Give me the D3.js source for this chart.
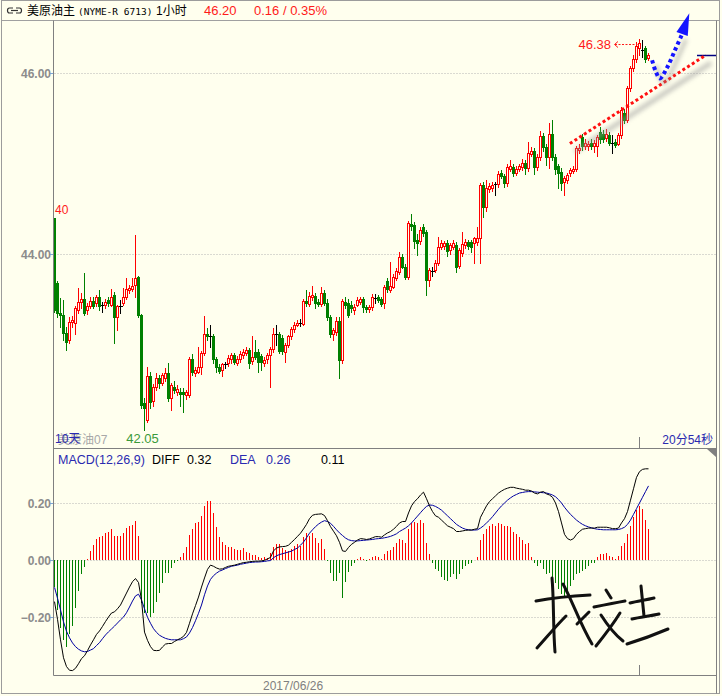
<!DOCTYPE html>
<html>
<head>
<meta charset="utf-8">
<script src="https://d3js.org/d3.v7.min.js"></script>
<style>
  html, body { margin: 0; padding: 0; background: #ffffff; }
  svg { display: block; }
</style>
</head>
<body>
<svg id="chart" width="722" height="696"></svg>
<script>
// hourly candles
const opens = [
  44.40,43.68,43.35,43.33,43.13,43.05,43.25,43.24,43.38,43.47,
  43.50,43.38,43.42,43.48,43.46,43.52,43.44,43.44,43.49,43.44,
  43.55,43.30,43.43,43.46,43.52,43.60,43.61,43.66,43.75,43.33,
  42.35,42.17,42.65,42.38,42.53,42.63,42.58,42.63,42.68,42.41,
  42.53,42.47,42.48,42.48,42.44,42.44,42.84,42.69,42.70,42.75,
  42.91,43.12,43.09,43.09,42.84,42.75,42.72,42.78,42.80,42.84,
  42.88,42.80,42.84,42.88,42.91,42.94,42.82,42.92,42.92,42.87,
  42.80,42.84,42.88,42.95,43.12,43.12,43.07,42.92,43.00,43.09,
  43.17,43.22,43.24,43.23,43.48,43.45,43.52,43.54,43.47,43.45,
  43.57,43.46,43.30,43.12,43.14,43.26,42.83,43.47,43.46,43.44,
  43.38,43.44,43.47,43.50,43.41,43.39,43.41,43.51,43.52,43.50,
  43.46,43.70,43.60,43.64,43.74,43.80,43.97,43.86,43.75,44.33,
  44.32,44.16,44.14,44.30,44.24,43.71,43.81,43.82,43.90,44.08,
  44.09,44.12,44.04,44.08,44.10,43.87,44.01,44.10,44.13,44.13,
  44.12,44.13,44.18,44.76,44.52,44.72,44.73,44.77,44.77,44.89,
  44.86,44.78,44.94,44.96,44.90,44.94,44.96,45.01,44.95,45.11,
  45.14,44.96,45.07,45.30,45.18,45.07,45.33,45.07,44.97,44.91,
  44.80,44.82,44.89,44.92,44.94,45.15,45.29,45.19,45.19,45.23,
  45.19,45.19,45.35,45.33,45.28,45.32,45.23,45.24,45.22,45.31,
  45.56,45.48,45.83,46.05,46.16,46.28,46.25,46.28,46.17
];
const highs = [
  44.40,43.70,43.51,43.49,43.19,43.30,43.31,43.42,43.62,43.57,
  43.79,43.46,43.52,43.53,43.55,43.60,43.47,43.50,43.52,43.61,
  43.58,43.44,43.49,43.62,43.73,43.66,43.74,44.21,43.76,43.34,
  42.41,42.75,42.70,42.56,42.68,42.66,42.68,42.74,42.80,42.58,
  42.60,42.55,42.52,42.52,42.50,42.86,42.90,42.75,42.97,42.93,
  43.31,43.18,43.21,43.12,42.86,42.78,42.80,42.81,42.88,42.91,
  42.91,42.87,42.93,42.95,42.97,42.96,43.09,43.05,42.95,42.89,
  42.86,42.91,42.97,43.18,43.21,43.14,43.10,43.02,43.11,43.19,
  43.25,43.27,43.28,43.50,43.60,43.58,43.65,43.57,43.50,43.64,
  43.60,43.50,43.33,43.18,43.30,43.30,43.50,43.52,43.50,43.48,
  43.45,43.52,43.53,43.52,43.44,43.44,43.56,43.56,43.55,43.53,
  43.66,43.73,43.91,43.78,43.85,44.02,44.00,43.89,44.36,44.44,
  44.35,44.22,44.30,44.33,44.26,43.84,43.86,43.93,44.19,44.16,
  44.14,44.15,44.12,44.15,44.13,44.07,44.24,44.17,44.16,44.16,
  44.19,44.30,44.78,44.80,44.82,44.78,44.80,44.80,44.92,44.93,
  44.88,44.99,45.04,44.99,44.97,45.00,45.05,45.04,45.24,45.18,
  45.17,45.10,45.36,45.34,45.22,45.45,45.48,45.10,45.00,44.95,
  44.86,44.90,44.95,44.97,45.19,45.22,45.33,45.27,45.25,45.27,
  45.26,45.32,45.40,45.37,45.38,45.35,45.31,45.27,45.34,45.62,
  45.60,45.86,46.08,46.20,46.34,46.38,46.36,46.30,46.22
];
const lows = [
  43.36,43.30,43.19,43.05,42.94,43.02,43.19,43.12,43.35,43.40,
  43.33,43.34,43.40,43.40,43.43,43.38,43.36,43.40,43.43,43.42,
  43.02,43.16,43.35,43.44,43.50,43.57,43.59,43.52,43.30,42.30,
  42.05,42.14,42.30,42.32,42.50,42.52,42.55,42.60,42.38,42.28,
  42.46,42.44,42.32,42.25,42.40,42.42,42.66,42.65,42.68,42.67,
  42.88,43.05,42.97,42.80,42.70,42.68,42.65,42.74,42.76,42.80,
  42.78,42.77,42.81,42.85,42.88,42.74,42.79,42.84,42.70,42.72,
  42.76,42.80,42.53,42.92,42.99,42.91,42.90,42.81,42.97,43.06,
  43.14,43.20,43.20,43.21,43.42,43.42,43.49,43.40,43.42,43.43,
  43.44,43.27,43.08,43.05,43.10,42.63,42.80,43.40,43.30,43.36,
  43.34,43.42,43.45,43.36,43.36,43.36,43.38,43.46,43.47,43.43,
  43.40,43.58,43.58,43.62,43.71,43.78,43.84,43.72,43.72,44.27,
  44.07,43.99,44.11,44.20,43.55,43.65,43.76,43.80,43.88,44.05,
  44.06,43.98,44.00,44.05,43.80,43.84,43.98,44.07,44.05,44.02,
  43.90,44.10,43.90,44.41,44.48,44.68,44.70,44.65,44.74,44.84,
  44.74,44.75,44.92,44.86,44.87,44.92,44.93,44.88,44.92,45.08,
  44.88,44.93,45.04,45.14,44.98,44.95,45.04,44.88,44.73,44.71,
  44.65,44.78,44.86,44.89,44.92,45.12,45.15,45.16,45.15,45.16,
  45.13,45.08,45.23,45.24,45.25,45.20,45.12,45.18,45.20,45.28,
  45.45,45.46,45.80,46.02,46.12,46.20,46.18,46.12,46.14
];
const closes = [
  43.38,43.35,43.33,43.13,43.03,43.25,43.27,43.40,43.47,43.50,
  43.35,43.43,43.48,43.43,43.52,43.42,43.44,43.47,43.46,43.52,
  43.30,43.43,43.43,43.52,43.61,43.62,43.65,43.73,43.33,42.33,
  42.30,42.65,42.36,42.53,42.63,42.57,42.66,42.68,42.41,42.55,
  42.50,42.51,42.45,42.45,42.47,42.84,42.70,42.72,42.75,42.91,
  43.12,43.09,43.09,42.84,42.75,42.71,42.78,42.78,42.85,42.88,
  42.81,42.84,42.90,42.92,42.94,42.80,42.86,42.86,42.81,42.81,
  42.83,42.88,42.95,43.12,43.12,42.93,42.93,43.00,43.09,43.17,
  43.22,43.24,43.24,43.48,43.46,43.54,43.55,43.46,43.45,43.57,
  43.46,43.30,43.12,43.16,43.26,42.83,43.48,43.44,43.33,43.40,
  43.41,43.49,43.50,43.41,43.39,43.41,43.52,43.51,43.49,43.45,
  43.64,43.61,43.65,43.75,43.81,43.97,43.86,43.75,44.34,44.31,
  44.14,44.12,44.27,44.23,43.71,43.82,43.81,43.90,44.08,44.12,
  44.12,44.03,44.10,44.12,43.86,44.04,44.11,44.13,44.09,44.08,
  44.18,44.18,44.76,44.52,44.73,44.75,44.76,44.77,44.88,44.86,
  44.78,44.96,44.97,44.90,44.94,44.97,45.01,44.95,45.12,45.14,
  44.96,45.07,45.30,45.18,45.07,45.33,45.07,44.94,44.90,44.78,
  44.84,44.87,44.93,44.94,45.17,45.17,45.19,45.23,45.22,45.19,
  45.23,45.29,45.27,45.27,45.33,45.23,45.23,45.20,45.31,45.59,
  45.48,45.83,46.05,46.16,46.30,46.33,46.25,46.16,46.20
];

// MACD(12,26,9) panel
const diffValues = [
  -0.146,-0.208,-0.28,-0.343,-0.374,-0.387,-0.388,-0.38,-0.364,-0.346,
  -0.336,-0.318,-0.298,-0.28,-0.261,-0.249,-0.233,-0.216,-0.2,-0.186,
  -0.182,-0.171,-0.158,-0.137,-0.116,-0.095,-0.076,-0.065,-0.079,-0.14,
  -0.253,-0.282,-0.304,-0.317,-0.318,-0.317,-0.305,-0.295,-0.293,-0.293,
  -0.286,-0.28,-0.275,-0.268,-0.254,-0.222,-0.189,-0.16,-0.13,-0.095,
  -0.063,-0.033,-0.018,-0.022,-0.028,-0.032,-0.031,-0.026,-0.022,-0.02,
  -0.018,-0.015,-0.012,-0.009,-0.008,-0.006,-0.005,-0.004,-0.004,-0.003,
  -0.001,0.004,0.009,0.032,0.042,0.046,0.047,0.048,0.052,0.062,
  0.072,0.083,0.094,0.109,0.125,0.145,0.157,0.16,0.161,0.162,
  0.156,0.138,0.117,0.101,0.085,0.062,0.032,0.03,0.044,0.055,
  0.062,0.07,0.075,0.074,0.072,0.074,0.078,0.082,0.082,0.08,
  0.088,0.095,0.1,0.108,0.118,0.13,0.135,0.135,0.165,0.19,
  0.205,0.215,0.228,0.238,0.215,0.19,0.17,0.155,0.15,0.14,
  0.13,0.12,0.115,0.11,0.1,0.1,0.102,0.104,0.105,0.105,
  0.108,0.11,0.15,0.17,0.19,0.205,0.215,0.225,0.235,0.242,
  0.248,0.252,0.255,0.255,0.252,0.25,0.248,0.245,0.245,0.242,
  0.235,0.232,0.238,0.24,0.232,0.228,0.22,0.2,0.17,0.13,
  0.09,0.075,0.07,0.075,0.09,0.1,0.108,0.11,0.112,0.112,
  0.112,0.115,0.115,0.115,0.115,0.113,0.11,0.11,0.112,0.13,
  0.145,0.17,0.21,0.25,0.29,0.31,0.318,0.32,0.32
];
const deaValues = [
  -0.096,-0.134,-0.175,-0.217,-0.25,-0.273,-0.291,-0.304,-0.313,-0.319,
  -0.322,-0.321,-0.316,-0.311,-0.3,-0.29,-0.276,-0.263,-0.252,-0.242,
  -0.232,-0.221,-0.21,-0.2,-0.185,-0.165,-0.144,-0.126,-0.12,-0.14,
  -0.171,-0.201,-0.222,-0.241,-0.254,-0.264,-0.27,-0.275,-0.278,-0.28,
  -0.28,-0.28,-0.28,-0.276,-0.27,-0.256,-0.237,-0.213,-0.187,-0.158,
  -0.122,-0.091,-0.068,-0.055,-0.046,-0.039,-0.035,-0.03,-0.026,-0.022,
  -0.02,-0.018,-0.015,-0.013,-0.011,-0.009,-0.008,-0.007,-0.007,-0.006,
  -0.005,-0.003,-0.002,0.008,0.015,0.019,0.022,0.025,0.028,0.031,
  0.037,0.042,0.052,0.063,0.078,0.094,0.106,0.117,0.126,0.133,
  0.138,0.135,0.129,0.118,0.106,0.095,0.086,0.077,0.071,0.068,
  0.067,0.067,0.068,0.069,0.07,0.071,0.072,0.074,0.075,0.076,
  0.078,0.08,0.083,0.087,0.092,0.1,0.106,0.112,0.12,0.13,
  0.142,0.154,0.166,0.178,0.188,0.193,0.192,0.188,0.182,0.175,
  0.165,0.155,0.145,0.135,0.125,0.118,0.112,0.108,0.106,0.105,
  0.105,0.106,0.112,0.12,0.13,0.14,0.152,0.165,0.178,0.19,
  0.2,0.21,0.218,0.225,0.23,0.235,0.237,0.239,0.24,0.24,
  0.239,0.238,0.237,0.236,0.235,0.232,0.228,0.222,0.212,0.2,
  0.185,0.172,0.16,0.15,0.14,0.132,0.125,0.12,0.116,0.113,
  0.11,0.108,0.107,0.106,0.106,0.106,0.106,0.106,0.107,0.11,
  0.115,0.125,0.14,0.16,0.18,0.2,0.22,0.24,0.26
];
const macdValues = [
  -0.095,-0.175,-0.24,-0.28,-0.305,-0.26,-0.23,-0.17,-0.11,-0.05,
  -0.025,0.005,0.033,0.053,0.074,0.082,0.085,0.096,0.1,0.108,
  0.084,0.084,0.084,0.096,0.113,0.119,0.123,0.137,0.084,-0.152,
  -0.187,-0.187,-0.199,-0.187,-0.146,-0.117,-0.082,-0.047,-0.044,-0.029,
  -0.012,-0.003,0.009,0.023,0.047,0.088,0.108,0.129,0.135,0.154,
  0.189,0.207,0.207,0.164,0.117,0.082,0.064,0.053,0.044,0.044,
  0.037,0.035,0.035,0.041,0.029,0.023,0.018,0.018,0.009,0.006,
  0.009,0.006,0.026,0.044,0.056,0.056,0.041,0.035,0.033,0.037,
  0.049,0.056,0.049,0.082,0.094,0.084,0.096,0.076,0.061,0.073,
  0.037,-0.005,-0.047,-0.073,-0.073,-0.044,-0.135,-0.076,-0.041,-0.02,
  -0.01,0.005,0.01,0.005,-0.005,0.005,0.01,0.015,0.01,0.005,
  0.02,0.03,0.035,0.045,0.06,0.075,0.07,0.06,0.11,0.13,
  0.135,0.13,0.14,0.13,0.06,0.02,-0.01,-0.03,-0.04,-0.06,
  -0.07,-0.075,-0.06,-0.05,-0.065,-0.05,-0.03,-0.02,-0.015,-0.01,
  0.0,0.01,0.07,0.09,0.11,0.12,0.125,0.12,0.13,0.125,
  0.12,0.12,0.115,0.1,0.09,0.08,0.07,0.055,0.06,0.01,
  -0.01,-0.02,-0.01,-0.03,-0.05,-0.045,-0.06,-0.08,-0.1,-0.12,
  -0.135,-0.11,-0.09,-0.07,-0.05,-0.045,-0.04,-0.03,-0.02,-0.01,
  -0.01,0.01,0.02,0.02,0.025,0.015,0.01,0.005,0.015,0.05,
  0.06,0.09,0.12,0.15,0.175,0.19,0.18,0.14,0.11
];

const priceTicks = [44, 46];
const macdTicks = [-0.2, 0, 0.2];
const dateLabels = ['2017/06/26'];
const dateLabelIndex = [70];
const sessionMarkIndex = [195];
const headerChange = ['0.16', '0.35%'];

// hand drawn marks on the screen, in (bar, price) terms
const trendLine = [[171.8, 45.22], [217.2, 46.20]];
const blueArrow = [[199.2, 46.14], [200.5, 46.01], [201.8, 45.94], [204.2, 46.06], [206.8, 46.25], [209.2, 46.43]];
const blueArrowTip = [211.6, 46.66];

const BG = '#ffffee';
const UP = '#ff0000', DOWN = '#008000', FLAT = '#000000';
const LATIN = '"Liberation Sans", Arial, sans-serif';
const CJK = '"Liberation Sans", "Noto Sans CJK SC", sans-serif';
const PLOT_LEFT = 53.5, PLOT_RIGHT = 716.5;

let svg, x, yPrice, yMacd;

function init() {
  svg = d3.select('#chart');
  x = d3.scaleLinear().domain([0, 220]).range([54.5, 714.5]);
  yPrice = d3.scaleLinear().domain([44, 46]).range([254, 73]);
  yMacd = d3.scaleLinear().domain([-0.2, 0.2]).range([617, 503]);

  const defs = svg.append('defs');
  defs.append('filter').attr('id', 'soft')
    .attr('x', '-20%').attr('y', '-20%').attr('width', '140%').attr('height', '140%')
    .append('feGaussianBlur').attr('stdDeviation', 2);
  defs.append('clipPath').attr('id', 'clipPrice')
    .append('rect').attr('x', 54).attr('y', 21).attr('width', 662).attr('height', 427);
  defs.append('clipPath').attr('id', 'clipMacd')
    .append('rect').attr('x', 54).attr('y', 449).attr('width', 662).attr('height', 226);

  drawFrame();
  drawTitle();
  drawPricePanel();
  drawMacdPanel();
  drawNotes();
}

function hline(y, x1, x2, color, dash) {
  return svg.append('line')
    .attr('x1', x1).attr('x2', x2)
    .attr('y1', Math.round(y) + 0.5).attr('y2', Math.round(y) + 0.5)
    .attr('stroke', color)
    .attr('stroke-dasharray', dash || null);
}

function vline(xp, y1, y2, color) {
  return svg.append('line')
    .attr('x1', xp).attr('x2', xp)
    .attr('y1', y1).attr('y2', y2)
    .attr('stroke', color);
}

function drawFrame() {
  svg.append('rect').attr('width', 722).attr('height', 696).attr('fill', BG);
  svg.append('rect')
    .attr('x', 1.5).attr('y', 0.5).attr('width', 718).attr('height', 693)
    .attr('fill', 'none').attr('stroke', '#9c9c9c');
  hline(20, 2, 719, '#a0a0a0');
  vline(PLOT_LEFT, 20.5, 675.5, '#808080');
  vline(PLOT_RIGHT, 20.5, 693.5, '#808080');
  hline(448, PLOT_LEFT, PLOT_RIGHT, '#808080');
  hline(675, PLOT_LEFT, PLOT_RIGHT, '#808080');

  svg.append('path')
    .attr('d', 'M707,449 L716,449 L716,457 Z')
    .attr('fill', '#808080');

  sessionMarkIndex.forEach(i => {
    vline(Math.round(x(i)) - 0.5, 437, 448, '#808080');
    vline(Math.round(x(i)) - 0.5, 665, 675, '#808080');
  });

  svg.selectAll('.dateLabel')
    .data(dateLabels)
    .enter().append('text')
    .attr('class', 'dateLabel')
    .attr('x', (d, i) => x(dateLabelIndex[i]) - 1.5)
    .attr('y', 690)
    .attr('font-family', LATIN)
    .attr('font-size', 12)
    .attr('fill', '#808080')
    .text(d => d);
}

function drawTitle() {
  const icon = svg.append('g').attr('fill', 'none').attr('stroke', '#333').attr('stroke-width', 1.2);
  icon.append('path').attr('d', 'M13,8 H9.5 Q7.5,8 7.5,10.5 Q7.5,13 9.5,13 H13');
  icon.append('path').attr('d', 'M16,8 H19.5 Q21.5,8 21.5,10.5 Q21.5,13 19.5,13 H16');
  icon.append('line').attr('x1', 11).attr('x2', 18).attr('y1', 10.5).attr('y2', 10.5);

  svg.append('text')
    .attr('x', 27).attr('y', 15)
    .attr('font-family', CJK).attr('font-size', 12).attr('fill', '#000')
    .text('美原油主');
  svg.append('text')
    .attr('x', 78).attr('y', 15)
    .attr('font-family', '"DejaVu Sans Mono", monospace').attr('font-size', 9.5).attr('fill', '#000')
    .text('(NYME-R 6713)');
  svg.append('text')
    .attr('x', 156).attr('y', 15)
    .attr('font-family', CJK).attr('font-size', 12).attr('fill', '#000')
    .text('1小时');

  svg.append('text')
    .attr('x', 204).attr('y', 15)
    .attr('font-family', LATIN).attr('font-size', 13).attr('fill', '#ff1a1a')
    .text(closes[closes.length - 1].toFixed(2));
  svg.append('text')
    .attr('x', 254).attr('y', 15)
    .attr('font-family', LATIN).attr('font-size', 13).attr('fill', '#ff1a1a')
    .text(headerChange[0] + ' / ' + headerChange[1]);
}

function drawPricePanel() {
  priceTicks.forEach(t => {
    hline(yPrice(t), PLOT_LEFT + 1, PLOT_RIGHT - 1, '#b4b4b4', '1,2');
    hline(yPrice(t), 50, 53, '#7aa7d8');
  });

  svg.selectAll('.priceTick')
    .data(priceTicks)
    .enter().append('text')
    .attr('class', 'priceTick')
    .attr('x', 51)
    .attr('y', d => yPrice(d) + 4.5)
    .attr('text-anchor', 'end')
    .attr('font-family', LATIN).attr('font-size', 12).attr('font-weight', 'bold')
    .attr('fill', '#8c8c8c')
    .text(d => d3.format('.2f')(d));

  const candles = opens.map((o, i) => ({ i, o, h: highs[i], l: lows[i], c: closes[i] }));
  const color = d => Math.abs(d.c - d.o) < 0.005 ? FLAT : (d.c > d.o ? UP : DOWN);

  const g = svg.append('g')
    .attr('clip-path', 'url(#clipPrice)')
    .attr('shape-rendering', 'crispEdges');

  const candle = g.selectAll('.candle')
    .data(candles)
    .enter().append('g')
    .attr('class', 'candle');

  candle.append('line')
    .attr('x1', d => x(d.i)).attr('x2', d => x(d.i))
    .attr('y1', d => Math.round(yPrice(d.h)))
    .attr('y2', d => Math.round(yPrice(d.l)) + 1)
    .attr('stroke', color);

  candle.filter(d => color(d) === UP)
    .append('rect')
    .attr('x', d => x(d.i) - 1)
    .attr('y', d => Math.round(yPrice(d.c)) + 0.5)
    .attr('width', 2)
    .attr('height', d => Math.max(1, Math.round(yPrice(d.o)) - Math.round(yPrice(d.c))))
    .attr('fill', BG)
    .attr('stroke', UP);

  candle.filter(d => color(d) === DOWN)
    .append('rect')
    .attr('x', d => x(d.i) - 1.5)
    .attr('y', d => Math.round(yPrice(d.o)))
    .attr('width', 3)
    .attr('height', d => Math.max(1, Math.round(yPrice(d.c)) - Math.round(yPrice(d.o)) + 1))
    .attr('fill', DOWN);

  candle.filter(d => color(d) === FLAT)
    .append('line')
    .attr('x1', d => x(d.i) - 2).attr('x2', d => x(d.i) + 2)
    .attr('y1', d => Math.round(yPrice(d.c)) + 0.5)
    .attr('y2', d => Math.round(yPrice(d.c)) + 0.5)
    .attr('stroke', FLAT);

  // extremes of the visible range
  const maxIdx = d3.maxIndex(highs), minIdx = d3.minIndex(lows);
  const yMax = yPrice(highs[maxIdx]) + 5.5;
  svg.append('text')
    .attr('x', 611).attr('y', yMax + 5)
    .attr('text-anchor', 'end')
    .attr('font-family', LATIN).attr('font-size', 13).attr('fill', '#ff1a1a')
    .text(highs[maxIdx].toFixed(2));
  hline(yMax, 615, x(maxIdx) - 2, '#ff1a1a', '2,1.5');
  svg.append('path')
    .attr('d', `M618,${Math.round(yMax) - 2.5} L614.5,${Math.round(yMax) + 0.5} L618,${Math.round(yMax) + 3.5}`)
    .attr('fill', 'none').attr('stroke', '#ff1a1a');

  svg.append('text')
    .attr('x', x(minIdx) - 2).attr('y', yPrice(lows[minIdx]) + 13)
    .attr('text-anchor', 'middle')
    .attr('font-family', LATIN).attr('font-size', 13).attr('fill', '#3a9a3a')
    .text(lows[minIdx].toFixed(2));

  svg.append('text')
    .attr('x', 55).attr('y', yPrice(opens[0]) - 4)
    .attr('font-family', LATIN).attr('font-size', 12).attr('fill', '#ff1a1a')
    .text(opens[0].toFixed(2).slice(-2));

  // the screen prints these two on top of each other
  svg.append('text')
    .attr('x', 58).attr('y', 444)
    .attr('font-family', CJK).attr('font-size', 12).attr('fill', '#a8a8a8')
    .text('美原油07');
  svg.append('text')
    .attr('x', 55).attr('y', 443)
    .attr('font-family', CJK).attr('font-size', 12).attr('fill', '#2a2ab0')
    .text('10天');
  svg.append('text')
    .attr('x', 713).attr('y', 444)
    .attr('text-anchor', 'end')
    .attr('font-family', CJK).attr('font-size', 12).attr('fill', '#2a2ab0')
    .text('20分54秒');

  hline(yPrice(closes[closes.length - 1]), 697, 716, '#000080').attr('stroke-width', 1.5);
}

function drawMacdPanel() {
  macdTicks.forEach(t => {
    hline(yMacd(t), PLOT_LEFT + 1, PLOT_RIGHT - 1, '#b4b4b4', '1,2');
    hline(yMacd(t), 50, 53, '#7aa7d8');
  });

  svg.selectAll('.macdTick')
    .data(macdTicks)
    .enter().append('text')
    .attr('class', 'macdTick')
    .attr('x', 51)
    .attr('y', d => yMacd(d) + 4.5)
    .attr('text-anchor', 'end')
    .attr('font-family', LATIN).attr('font-size', 12).attr('font-weight', 'bold')
    .attr('fill', '#8c8c8c')
    .text(d => d3.format('.2f')(d));

  const g = svg.append('g').attr('clip-path', 'url(#clipMacd)');

  g.append('g')
    .attr('shape-rendering', 'crispEdges')
    .selectAll('line')
    .data(macdValues)
    .enter().append('line')
    .attr('x1', (d, i) => x(i)).attr('x2', (d, i) => x(i))
    .attr('y1', yMacd(0))
    .attr('y2', d => yMacd(d))
    .attr('stroke', d => d >= 0 ? UP : DOWN);

  const line = d3.line()
    .x((d, i) => x(i))
    .y(d => yMacd(d));

  g.append('path')
    .datum(deaValues)
    .attr('d', line)
    .attr('fill', 'none')
    .attr('stroke', '#0000a0');

  g.append('path')
    .datum(diffValues)
    .attr('d', line)
    .attr('fill', 'none')
    .attr('stroke', '#000');

  const last = macdValues.length - 1;
  const header = [
    { x: 58, text: 'MACD(12,26,9)', fill: '#2a2ab0' },
    { x: 152, text: 'DIFF', fill: '#000' },
    { x: 187, text: diffValues[last].toFixed(2), fill: '#000' },
    { x: 230, text: 'DEA', fill: '#2a2ab0' },
    { x: 266, text: deaValues[last].toFixed(2), fill: '#2a2ab0' },
    { x: 321, text: macdValues[last].toFixed(2), fill: '#000' }
  ];
  svg.selectAll('.macdHeader')
    .data(header)
    .enter().append('text')
    .attr('class', 'macdHeader')
    .attr('x', d => d.x).attr('y', 464)
    .attr('font-family', LATIN).attr('font-size', 12.5)
    .attr('fill', d => d.fill)
    .text(d => d.text);
}

function drawNotes() {
  const px = d => [x(d[0]), yPrice(d[1])];

  // red dotted trend line with its drop shadow
  const t0 = px(trendLine[0]), t1 = px(trendLine[1]);
  svg.append('line')
    .attr('x1', t0[0] + 5).attr('y1', t0[1] + 8).attr('x2', t1[0] + 5).attr('y2', t1[1] + 8)
    .attr('stroke', '#9a9a9a').attr('stroke-width', 5).attr('opacity', 0.5)
    .attr('filter', 'url(#soft)');
  svg.append('line')
    .attr('x1', t0[0]).attr('y1', t0[1]).attr('x2', t1[0]).attr('y2', t1[1])
    .attr('stroke', '#ff1010').attr('stroke-width', 3).attr('stroke-dasharray', '3,2.6');

  // blue dotted arrow
  const curve = d3.line().x(d => px(d)[0]).y(d => px(d)[1]).curve(d3.curveCatmullRom);
  svg.append('path')
    .datum(blueArrow)
    .attr('d', curve)
    .attr('transform', 'translate(4,5)')
    .attr('fill', 'none').attr('stroke', '#8a8a8a').attr('stroke-width', 4).attr('opacity', 0.45)
    .attr('filter', 'url(#soft)');
  svg.append('path')
    .datum(blueArrow)
    .attr('d', curve)
    .attr('fill', 'none').attr('stroke', '#1414ff').attr('stroke-width', 4)
    .attr('stroke-dasharray', '3.5,3');

  const tip = px(blueArrowTip), base = px(blueArrow[blueArrow.length - 1]);
  const dx = tip[0] - base[0], dy = tip[1] - base[1], len = Math.hypot(dx, dy);
  const nx = -dy / len * 6, ny = dx / len * 6;
  const head = [[tip[0], tip[1]], [base[0] + nx, base[1] + ny], [base[0] - nx, base[1] - ny]];
  svg.append('path')
    .attr('d', 'M' + head.map(p => p.join(',')).join('L') + 'Z')
    .attr('fill', '#1414ff');

  // signature stamped over the lower panel
  const strokes = [
    'M536,601 C552,598 572,596 590,595',
    'M552,578 C554,600 553,628 555,652',
    'M537,648 C546,638 556,626 566,616',
    'M563,584 C572,600 580,624 592,644',
    'M577,624 L589,612',
    'M606,590 L611,598',
    'M594,607 C604,605 614,603 625,601',
    'M601,615 C608,626 614,634 623,641',
    'M620,613 C612,626 604,636 596,646',
    'M630,603 C638,601 646,600 654,598',
    'M641,586 L644,616',
    'M632,619 C641,617 650,616 659,614',
    'M627,644 C640,640 654,635 668,629'
  ];
  svg.append('g')
    .selectAll('path')
    .data(strokes)
    .enter().append('path')
    .attr('d', d => d)
    .attr('fill', 'none').attr('stroke', '#111')
    .attr('stroke-width', 3).attr('stroke-linecap', 'round');
}

init();
</script>
</body>
</html>
